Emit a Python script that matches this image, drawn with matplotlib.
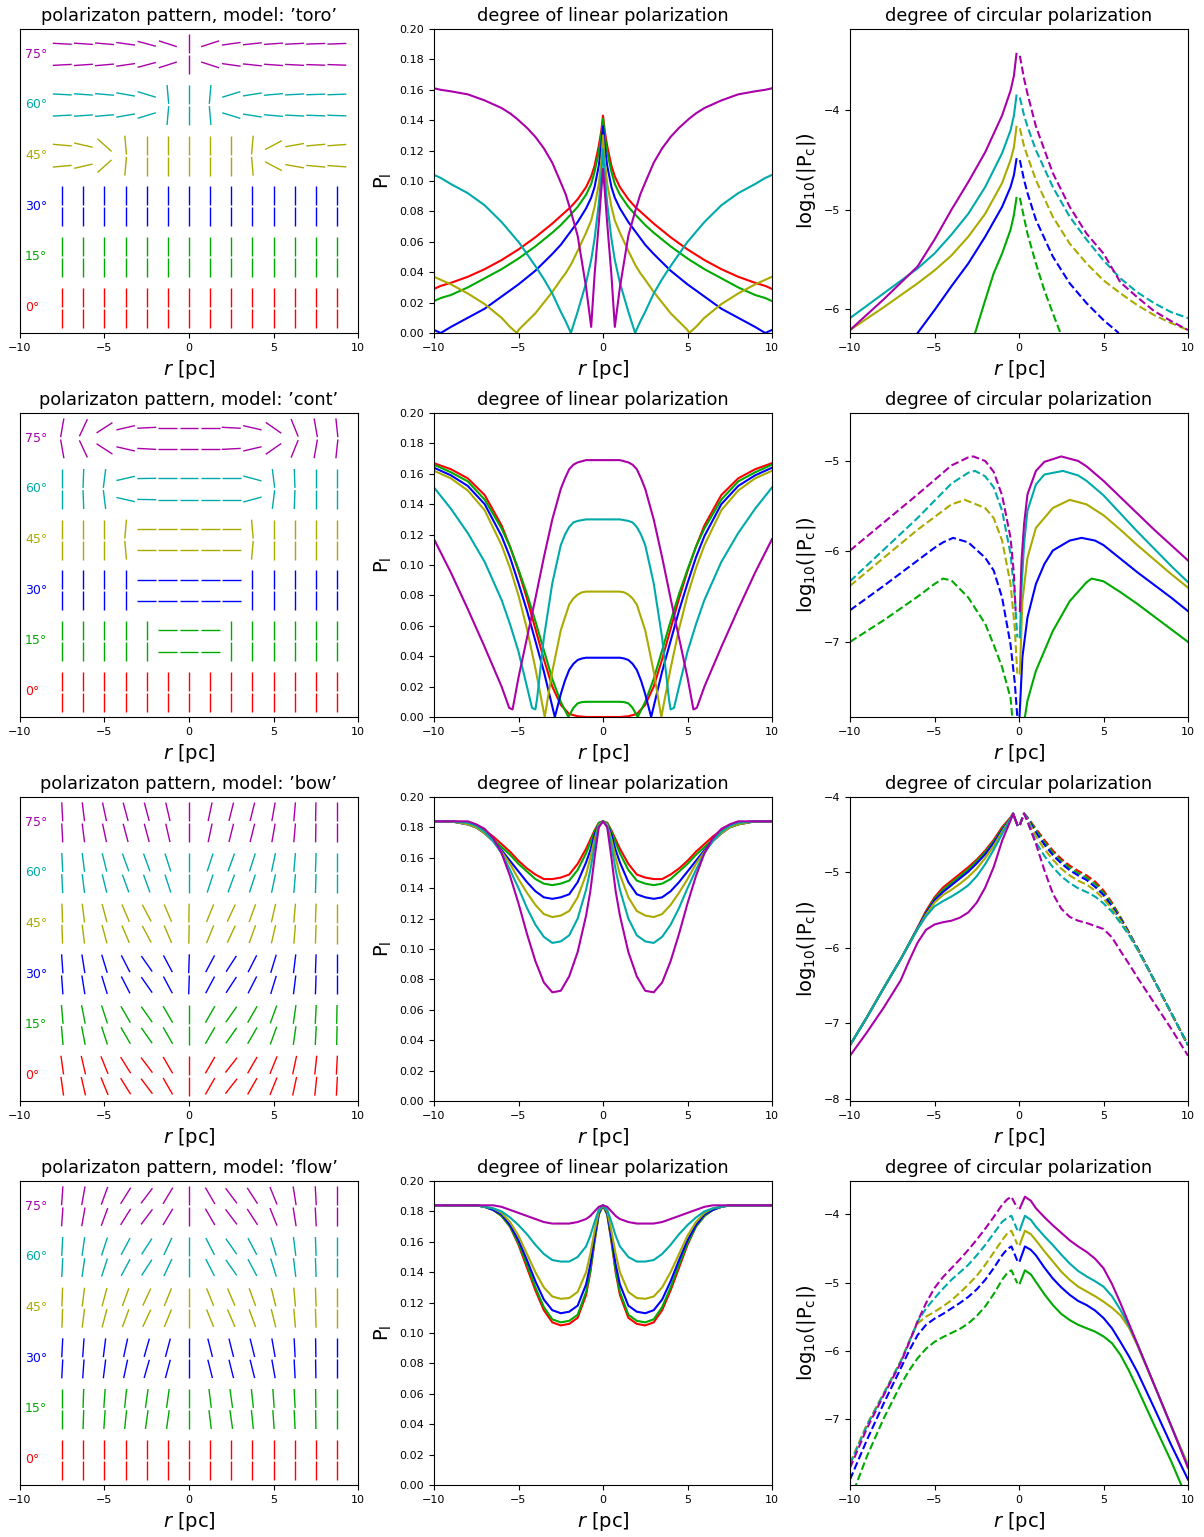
import numpy as np
import matplotlib
matplotlib.use('Agg')
import matplotlib.pyplot as plt
from matplotlib.collections import LineCollection

# inclinations and colours
incl = [0, 15, 30, 45, 60, 75]
colors = ['r', '#00aa00', 'b', '#aaaa00', '#00aaaa', '#aa00aa']
models = ['toro', 'cont', 'bow', 'flow']

# positions of the pattern segments along r
grid_x = [-7.5, -6.25, -5.0, -3.75, -2.5, -1.25, 0.0, 1.25, 2.5, 3.75, 5.0, 6.25, 7.5, 8.75]

# polarization angle (deg from vertical, + leans right) of the upper row, one list per inclination
toro_angle = [
    [0] * 14,
    [0] * 14,
    [0] * 14,
    [-85, -77, -48, -5, 0, 0, 0, 0, 0, 5, 62, 80, 85, 86],
    [-87, -86, -85, -80, -73, -5, 0, 5, 73, 81, 85, 87, 88, 88],
    [-87, -86, -85, -82, -75, -72, 0, 72, 82, 84, 86, 87, 88, 88],
]
cont_angle = [
    [0] * 14,
    [0, 0, 0, 0, 0, 90, 90, 90, 0, 0, 0, 0, 0, 0],
    [0, 0, 0, 0, 90, 90, 90, 90, 90, 0, 0, 0, 0, 0],
    [0, 0, 0, 5, 90, 90, 90, 90, 90, -5, 0, 0, 0, 0],
    [0, 2, 7, 77, 89, 90, 90, 90, 90, -75, -7, -2, 0, 0],
    [10, 25, 57, 77, 87, 90, 90, 90, -87, -77, -55, -22, -10, -6],
]
bow_angle = [
    [-8, -13, -22, -32, -37, -30, 0, 30, 38, 30, 22, 12, 6, 3],
    [-5, -11, -18, -30, -35, -30, 0, 30, 35, 30, 20, 8, 3, 1],
    [-4, -9, -17, -27, -35, -28, 2, 28, 33, 27, 17, 7, 2, 0],
    [-2, -7, -15, -23, -28, -23, 1, 22, 25, 20, 13, 5, 2, 0],
    [-3, -7, -14, -20, -20, -18, 0, 18, 20, 18, 12, 5, 2, 0],
    [-3, -7, -12, -15, -15, -13, 0, 12, 14, 14, 10, 5, 1, 0],
]
flow_angle = [
    [0] * 14,
    [0, 2, 4, 6, 8, 8, 0, -7, -8, -6, -4, -3, -1, 0],
    [3, 4, 7, 12, 16, 15, 0, -14, -14, -14, -10, -3, -1, 0],
    [2, 7, 15, 20, 25, 22, 0, -22, -23, -20, -14, -5, -2, 0],
    [3, 8, 18, 28, 33, 25, 0, -27, -35, -28, -17, -7, -2, 0],
    [4, 10, 20, 32, 37, 31, 0, -30, -37, -33, -22, -9, -3, 0],
]
# lower row mirrored (-1) or equal (+1) to upper row
lower_sign = [-1, -1, 1, 1]

# ---- degree of linear polarization, r >= 0 half (profiles are symmetric) ----
toro_lin_r = [0, 0.1, 0.25, 0.5, 0.7, 1, 1.5, 1.9, 2.2, 2.5, 3, 3.5, 4, 4.5, 5, 5.1, 5.5, 6, 7, 8, 9, 9.6, 10]
toro_lin = [
    [0.143, 0.133, 0.123, 0.110, 0.103, 0.096, 0.088, 0.083, 0.080, 0.077, 0.072, 0.0675, 0.063, 0.059, 0.055, 0.0543, 0.0515, 0.048, 0.042, 0.037, 0.033, 0.031, 0.029],
    [0.141, 0.130, 0.119, 0.106, 0.098, 0.091, 0.083, 0.078, 0.0745, 0.071, 0.066, 0.0615, 0.057, 0.053, 0.049, 0.0483, 0.0455, 0.042, 0.036, 0.030, 0.025, 0.023, 0.021],
    [0.136, 0.123, 0.110, 0.096, 0.089, 0.082, 0.073, 0.067, 0.0625, 0.058, 0.052, 0.0465, 0.041, 0.0365, 0.032, 0.0312, 0.028, 0.024, 0.016, 0.010, 0.004, 0.000, 0.002],
    [0.130, 0.113, 0.098, 0.083, 0.074, 0.066, 0.054, 0.045, 0.0395, 0.035, 0.027, 0.020, 0.013, 0.0075, 0.002, 0.000, 0.004, 0.010, 0.019, 0.026, 0.032, 0.035, 0.037],
    [0.121, 0.104, 0.085, 0.062, 0.048, 0.033, 0.014, 0.000, 0.0075, 0.014, 0.026, 0.0355, 0.044, 0.052, 0.060, 0.0612, 0.0665, 0.073, 0.084, 0.092, 0.098, 0.102, 0.104],
    [0.108, 0.094, 0.072, 0.038, 0.004, 0.030, 0.064, 0.080, 0.091, 0.099, 0.112, 0.1215, 0.129, 0.135, 0.140, 0.141, 0.1445, 0.148, 0.153, 0.157, 0.159, 0.160, 0.161],
]
cont_lin_r = [
    [0, 1, 1.5, 2, 2.5, 3, 3.5, 4, 4.5, 5, 5.5, 6, 7, 8, 9, 10],
    [0, 1, 1.25, 1.5, 1.75, 2.05, 2.5, 3, 3.5, 4, 4.5, 5, 5.5, 6, 7, 8, 9, 10],
    [0, 1, 1.25, 1.5, 1.75, 2, 2.25, 2.5, 2.85, 3.5, 4, 4.5, 5, 5.5, 6, 7, 8, 9, 10],
    [0, 1, 1.25, 1.5, 1.75, 2, 2.5, 3, 3.45, 4, 4.5, 5, 5.5, 6, 7, 8, 9, 10],
    [0, 1, 1.5, 1.75, 2, 2.25, 2.5, 3, 3.5, 3.9, 4.0, 4.2, 4.5, 5, 5.5, 6, 7, 8, 9, 10],
    [0, 1, 1.5, 1.75, 2, 2.25, 2.5, 3, 3.5, 4, 4.5, 5, 5.35, 5.55, 6, 6.5, 7, 8, 9, 10],
]
cont_lin = [
    [0, 0, 0.0005, 0.002, 0.008, 0.020, 0.038, 0.058, 0.078, 0.096, 0.112, 0.126, 0.146, 0.157, 0.163, 0.167],
    [0.010, 0.010, 0.0098, 0.009, 0.006, 0.0, 0.010, 0.025, 0.044, 0.063, 0.081, 0.097, 0.112, 0.124, 0.143, 0.155, 0.161, 0.166],
    [0.039, 0.039, 0.0385, 0.0375, 0.035, 0.031, 0.024, 0.015, 0.0, 0.030, 0.050, 0.070, 0.088, 0.105, 0.119, 0.140, 0.152, 0.159, 0.164],
    [0.0825, 0.0825, 0.082, 0.0805, 0.078, 0.074, 0.057, 0.030, 0.0, 0.032, 0.058, 0.080, 0.098, 0.113, 0.136, 0.149, 0.157, 0.162],
    [0.130, 0.130, 0.129, 0.128, 0.125, 0.120, 0.113, 0.088, 0.052, 0.012, 0.005, 0.006, 0.020, 0.043, 0.061, 0.077, 0.102, 0.121, 0.137, 0.151],
    [0.169, 0.169, 0.1675, 0.166, 0.163, 0.157, 0.150, 0.130, 0.105, 0.078, 0.052, 0.026, 0.005, 0.006, 0.020, 0.033, 0.046, 0.071, 0.095, 0.117],
]
bow_lin_r = [0, 0.25, 0.5, 0.75, 1, 1.5, 2, 2.5, 3, 3.5, 4, 4.5, 5, 5.5, 6, 6.5, 7, 7.5, 8, 9, 10]
bow_lin = [
    [0.184, 0.183, 0.178, 0.172, 0.166, 0.156, 0.149, 0.147, 0.146, 0.146, 0.149, 0.153, 0.158, 0.164, 0.169, 0.174, 0.178, 0.181, 0.183, 0.184, 0.184],
    [0.184, 0.183, 0.177, 0.170, 0.163, 0.152, 0.145, 0.143, 0.142, 0.143, 0.146, 0.151, 0.156, 0.162, 0.167, 0.172, 0.177, 0.180, 0.182, 0.184, 0.184],
    [0.184, 0.182, 0.175, 0.165, 0.157, 0.144, 0.136, 0.134, 0.133, 0.134, 0.138, 0.144, 0.151, 0.158, 0.165, 0.171, 0.176, 0.180, 0.182, 0.184, 0.184],
    [0.184, 0.182, 0.172, 0.160, 0.149, 0.134, 0.125, 0.122, 0.121, 0.123, 0.129, 0.137, 0.146, 0.156, 0.164, 0.171, 0.176, 0.180, 0.182, 0.184, 0.184],
    [0.184, 0.181, 0.168, 0.152, 0.139, 0.120, 0.109, 0.105, 0.104, 0.108, 0.116, 0.127, 0.140, 0.152, 0.163, 0.171, 0.177, 0.181, 0.183, 0.184, 0.184],
    [0.184, 0.180, 0.160, 0.138, 0.122, 0.098, 0.082, 0.0725, 0.0715, 0.078, 0.092, 0.110, 0.130, 0.148, 0.163, 0.173, 0.179, 0.182, 0.184, 0.184, 0.184],
]
flow_lin_r = [0, 0.25, 0.5, 0.75, 1, 1.5, 2, 2.5, 3, 3.5, 4, 4.5, 5, 5.5, 6, 6.5, 7, 7.5, 8, 9, 10]
flow_lin = [
    [0.184, 0.178, 0.160, 0.140, 0.125, 0.110, 0.106, 0.105, 0.107, 0.115, 0.128, 0.143, 0.158, 0.170, 0.177, 0.181, 0.183, 0.184, 0.184, 0.184, 0.184],
    [0.184, 0.178, 0.161, 0.141, 0.127, 0.112, 0.108, 0.107, 0.109, 0.117, 0.130, 0.145, 0.159, 0.170, 0.177, 0.181, 0.183, 0.184, 0.184, 0.184, 0.184],
    [0.184, 0.179, 0.163, 0.145, 0.132, 0.118, 0.114, 0.113, 0.115, 0.122, 0.134, 0.148, 0.161, 0.171, 0.178, 0.181, 0.183, 0.184, 0.184, 0.184, 0.184],
    [0.184, 0.180, 0.167, 0.152, 0.140, 0.127, 0.123, 0.1225, 0.124, 0.130, 0.140, 0.152, 0.164, 0.173, 0.179, 0.182, 0.183, 0.184, 0.184, 0.184, 0.184],
    [0.184, 0.181, 0.173, 0.164, 0.157, 0.150, 0.147, 0.147, 0.148, 0.152, 0.158, 0.165, 0.171, 0.176, 0.180, 0.182, 0.183, 0.184, 0.184, 0.184, 0.184],
    [0.184, 0.183, 0.180, 0.177, 0.175, 0.173, 0.172, 0.172, 0.172, 0.173, 0.175, 0.177, 0.179, 0.181, 0.183, 0.184, 0.184, 0.184, 0.184, 0.184, 0.184],
]

# ---- log10|Pc|: (r, value) for r<0 and r>0 separately; None = not drawn ----
toro_circ_left = [
    None,
    ([-2.6, -2, -1.5, -1, -0.5, -0.3, -0.15], [-6.24, -5.91, -5.64, -5.44, -5.20, -5.05, -4.88]),
    ([-6.0, -5, -4, -3, -2, -1, -0.5, -0.3, -0.15], [-6.24, -6.01, -5.77, -5.54, -5.27, -4.97, -4.77, -4.65, -4.49]),
    ([-10, -8, -6, -5, -4, -3, -2, -1, -0.5, -0.3, -0.15], [-6.21, -5.98, -5.74, -5.61, -5.46, -5.27, -5.04, -4.73, -4.50, -4.37, -4.165]),
    ([-10, -8, -6, -5, -4, -3, -2, -1, -0.5, -0.3, -0.15], [-6.09, -5.84, -5.59, -5.44, -5.25, -5.04, -4.77, -4.43, -4.20, -4.05, -3.85]),
    ([-10, -8, -6, -5, -4, -3, -2, -1, -0.5, -0.3, -0.15], [-6.21, -5.90, -5.57, -5.30, -5.00, -4.72, -4.42, -4.05, -3.80, -3.65, -3.43]),
]
toro_circ_right = [
    None,
    ([0.05, 0.3, 0.5, 1, 1.5, 2, 2.45], [-4.88, -5.08, -5.24, -5.54, -5.81, -6.04, -6.24]),
    ([0.05, 0.3, 0.5, 1, 2, 3, 4, 5, 5.9], [-4.50, -4.70, -4.83, -5.10, -5.47, -5.74, -5.94, -6.11, -6.24]),
    ([0.05, 0.3, 0.5, 1, 2, 3, 4, 5, 6, 7, 8, 9, 10], [-4.18, -4.36, -4.46, -4.70, -5.07, -5.34, -5.54, -5.71, -5.84, -5.96, -6.06, -6.14, -6.21]),
    ([0.05, 0.3, 0.5, 1, 2, 3, 4, 5, 6, 7, 8, 9, 10], [-3.87, -4.05, -4.16, -4.40, -4.77, -5.07, -5.30, -5.51, -5.69, -5.83, -5.94, -6.03, -6.09]),
    ([0.05, 0.3, 0.5, 1, 2, 3, 4, 5, 6, 7, 8, 9, 10], [-3.45, -3.68, -3.83, -4.16, -4.63, -4.97, -5.24, -5.44, -5.73, -5.88, -6.02, -6.12, -6.21]),
]
cont_circ_left = [
    None,
    ([-10, -8, -6, -5, -4.5, -4, -3, -2, -1.5, -1, -0.5, -0.4], [-7.0, -6.76, -6.50, -6.36, -6.30, -6.32, -6.51, -6.80, -7.03, -7.28, -7.62, -7.83]),
    ([-10, -8, -6, -5, -4.5, -3.9, -3, -2, -1.5, -1, -0.5, -0.25, -0.1], [-6.65, -6.38, -6.10, -5.96, -5.90, -5.85, -5.90, -6.07, -6.21, -6.51, -7.03, -7.45, -7.83]),
    ([-10, -8, -6, -5, -4, -3.2, -2, -1.5, -1, -0.5, -0.25, -0.1], [-6.38, -6.07, -5.76, -5.62, -5.48, -5.43, -5.52, -5.63, -5.88, -6.36, -6.85, -7.35]),
    ([-10, -8, -6, -5, -4, -3, -2.6, -2, -1.5, -1, -0.5, -0.25, -0.1], [-6.33, -5.98, -5.63, -5.44, -5.25, -5.13, -5.11, -5.17, -5.29, -5.55, -6.03, -6.50, -6.95]),
    ([-10, -8, -6, -5, -4, -3, -2.7, -2, -1.5, -1, -0.5, -0.3, -0.2], [-5.99, -5.68, -5.37, -5.21, -5.05, -4.96, -4.95, -5.00, -5.12, -5.38, -5.85, -6.25, -6.66]),
]
cont_circ_right = [
    None,
    ([0.35, 0.5, 1, 1.5, 2, 3, 4, 4.3, 5, 6, 7, 8, 9, 10], [-7.83, -7.65, -7.32, -7.10, -6.88, -6.55, -6.34, -6.30, -6.33, -6.45, -6.58, -6.72, -6.86, -7.0]),
    ([0.03, 0.2, 0.5, 1, 1.5, 2, 3, 3.7, 4.5, 5, 6, 7, 8, 9, 10], [-7.83, -7.17, -6.73, -6.36, -6.14, -5.99, -5.88, -5.85, -5.88, -5.93, -6.08, -6.23, -6.37, -6.51, -6.66]),
    ([0.05, 0.2, 0.5, 1, 2, 3, 4, 5, 6, 7, 8, 9, 10], [-7.35, -6.55, -6.07, -5.74, -5.52, -5.43, -5.48, -5.60, -5.76, -5.93, -6.09, -6.25, -6.40]),
    ([0.05, 0.15, 0.3, 0.5, 1, 1.5, 2.6, 3.5, 4, 5, 6, 7, 8, 9, 10], [-6.95, -6.40, -5.92, -5.55, -5.26, -5.15, -5.11, -5.16, -5.22, -5.38, -5.58, -5.78, -5.97, -6.16, -6.34]),
    ([0.05, 0.15, 0.3, 0.5, 1, 1.5, 2.5, 3.5, 4, 5, 6, 7, 8, 9, 10], [-6.66, -6.10, -5.70, -5.37, -5.11, -5.01, -4.95, -5.00, -5.06, -5.22, -5.40, -5.58, -5.76, -5.93, -6.10]),
]
bow_circ_lr = [-10, -9, -8, -7, -6.5, -6, -5.5, -5, -4.5, -4, -3.5, -3, -2.5, -2, -1.5, -1, -0.5, -0.35, -0.1]
bow_circ_left = [
    [-7.29, -6.92, -6.53, -6.15, -5.94, -5.73, -5.51, -5.33, -5.20, -5.11, -5.02, -4.93, -4.83, -4.71, -4.57, -4.40, -4.27, -4.22, -4.37],
    [-7.29, -6.92, -6.53, -6.15, -5.94, -5.74, -5.53, -5.35, -5.23, -5.14, -5.05, -4.96, -4.85, -4.73, -4.59, -4.42, -4.28, -4.22, -4.37],
    [-7.29, -6.92, -6.53, -6.15, -5.95, -5.74, -5.54, -5.37, -5.26, -5.17, -5.08, -4.99, -4.88, -4.76, -4.61, -4.44, -4.29, -4.22, -4.37],
    [-7.29, -6.92, -6.53, -6.15, -5.95, -5.75, -5.56, -5.40, -5.30, -5.23, -5.15, -5.06, -4.95, -4.81, -4.65, -4.46, -4.29, -4.22, -4.37],
    [-7.29, -6.92, -6.53, -6.15, -5.95, -5.75, -5.58, -5.45, -5.38, -5.32, -5.25, -5.17, -5.05, -4.89, -4.70, -4.49, -4.29, -4.22, -4.37],
    [-7.43, -7.12, -6.79, -6.43, -6.17, -5.93, -5.76, -5.69, -5.66, -5.64, -5.60, -5.53, -5.40, -5.20, -4.93, -4.58, -4.31, -4.22, -4.37],
]
bow_circ_rr = [0.05, 0.3, 0.5, 1, 1.5, 2, 2.5, 3, 3.5, 4, 4.5, 5, 5.5, 6, 6.5, 7, 8, 9, 10]
bow_circ_right = [
    [-4.37, -4.22, -4.27, -4.42, -4.57, -4.71, -4.82, -4.91, -4.98, -5.04, -5.12, -5.24, -5.40, -5.59, -5.79, -6.00, -6.43, -6.86, -7.29],
    [-4.37, -4.22, -4.27, -4.44, -4.60, -4.74, -4.85, -4.94, -5.01, -5.07, -5.15, -5.27, -5.42, -5.60, -5.80, -6.00, -6.43, -6.86, -7.29],
    [-4.37, -4.22, -4.28, -4.47, -4.63, -4.77, -4.88, -4.97, -5.04, -5.10, -5.19, -5.30, -5.45, -5.62, -5.80, -6.00, -6.43, -6.86, -7.29],
    [-4.37, -4.22, -4.29, -4.52, -4.69, -4.83, -4.95, -5.04, -5.11, -5.16, -5.24, -5.35, -5.48, -5.64, -5.81, -6.01, -6.43, -6.86, -7.29],
    [-4.37, -4.22, -4.30, -4.60, -4.78, -4.93, -5.05, -5.14, -5.21, -5.26, -5.32, -5.41, -5.52, -5.67, -5.83, -6.02, -6.43, -6.86, -7.29],
    [-4.37, -4.22, -4.33, -4.62, -4.97, -5.28, -5.48, -5.59, -5.64, -5.67, -5.71, -5.75, -5.86, -6.04, -6.21, -6.39, -6.73, -7.07, -7.43],
]
flow_circ_lr = [-10, -9, -8, -7, -6.5, -6, -5.5, -5, -4.5, -4, -3.5, -3, -2.5, -2, -1.5, -1, -0.7, -0.45, -0.1]
flow_circ_left = [
    None,
    [-8.2, -7.55, -6.99, -6.50, -6.29, -6.11, -5.97, -5.87, -5.80, -5.74, -5.68, -5.60, -5.49, -5.35, -5.17, -4.96, -4.86, -4.82, -5.01],
    [-7.89, -7.31, -6.77, -6.26, -6.00, -5.77, -5.62, -5.53, -5.46, -5.38, -5.30, -5.21, -5.10, -4.96, -4.79, -4.60, -4.51, -4.47, -4.68],
    [-7.65, -7.08, -6.62, -6.15, -5.86, -5.60, -5.50, -5.43, -5.35, -5.26, -5.15, -5.03, -4.90, -4.74, -4.56, -4.38, -4.28, -4.24, -4.44],
    [-7.67, -7.10, -6.63, -6.16, -5.87, -5.57, -5.38, -5.23, -5.09, -4.96, -4.85, -4.74, -4.60, -4.45, -4.28, -4.11, -4.05, -4.02, -4.23],
    [-7.72, -7.14, -6.65, -6.18, -5.88, -5.57, -5.30, -5.08, -4.92, -4.79, -4.66, -4.52, -4.37, -4.21, -4.04, -3.86, -3.78, -3.74, -3.91],
]
flow_circ_rr = [0.05, 0.35, 0.7, 1, 1.5, 2, 2.5, 3, 3.5, 4, 4.5, 5, 5.5, 6, 6.5, 7, 8, 9, 10]
flow_circ_right = [
    None,
    [-5.01, -4.82, -4.88, -4.99, -5.17, -5.33, -5.46, -5.55, -5.62, -5.67, -5.72, -5.79, -5.89, -6.06, -6.29, -6.55, -7.09, -7.62, -8.2],
    [-4.68, -4.47, -4.52, -4.60, -4.78, -4.94, -5.07, -5.18, -5.27, -5.33, -5.41, -5.52, -5.67, -5.87, -6.08, -6.31, -6.84, -7.38, -7.89],
    [-4.44, -4.24, -4.29, -4.38, -4.54, -4.69, -4.84, -4.96, -5.06, -5.13, -5.20, -5.28, -5.37, -5.48, -5.66, -5.92, -6.50, -7.10, -7.67],
    [-4.23, -4.02, -4.08, -4.18, -4.32, -4.45, -4.59, -4.72, -4.83, -4.91, -4.98, -5.06, -5.20, -5.40, -5.63, -5.90, -6.50, -7.10, -7.70],
    [-3.91, -3.74, -3.80, -3.91, -4.04, -4.16, -4.27, -4.38, -4.47, -4.55, -4.65, -4.79, -5.02, -5.30, -5.60, -5.90, -6.50, -7.10, -7.72],
]
circ_ylim = [(-6.24, -3.18), (-7.83, -4.47), (-8.03, -4.0), (-7.97, -3.51)]
circ_left_style = ['-', '--', '-', '--']


def pairs(rr, vals):
    return [None if v is None else (rr, v) for v in vals]


lin_r = [toro_lin_r, cont_lin_r, bow_lin_r, flow_lin_r]
lin_p = [toro_lin, cont_lin, bow_lin, flow_lin]
angles = [toro_angle, cont_angle, bow_angle, flow_angle]
circ_left = [toro_circ_left, cont_circ_left,
             pairs(bow_circ_lr, bow_circ_left), pairs(flow_circ_lr, flow_circ_left)]
circ_right = [toro_circ_right, cont_circ_right,
              pairs(bow_circ_rr, bow_circ_right), pairs(flow_circ_rr, flow_circ_right)]


def mirror(r, v):
    r = np.asarray(r, float)
    v = np.asarray(v, float)
    return np.concatenate([-r[::-1], r[1:]]), np.concatenate([v[::-1], v[1:]])


W, H = 1204, 1537
fig = plt.figure(figsize=(W / 100, H / 100), dpi=100)
col_x = [20, 434, 850]
row_top = [29, 413, 797, 1181]
aw, ah = 338, 304

tfs, lfs, kfs = 12.8, 14, 8

for m, model in enumerate(models):
    bottom = 1 - (row_top[m] + ah) / H
    ax1 = fig.add_axes([col_x[0] / W, bottom, aw / W, ah / H])
    ax2 = fig.add_axes([col_x[1] / W, bottom, aw / W, ah / H])
    ax3 = fig.add_axes([col_x[2] / W, bottom, aw / W, ah / H])

    # polarization pattern
    L = 0.56
    for i in range(6):
        y0 = 3 * i
        for dy, s in ((0.625, 1), (-0.625, lower_sign[m])):
            segs = []
            for x, a in zip(grid_x, angles[m][i]):
                t = np.radians(s * a)
                segs.append([(x - L * np.sin(t), y0 + dy - L * np.cos(t)),
                             (x + L * np.sin(t), y0 + dy + L * np.cos(t))])
            ax1.add_collection(LineCollection(segs, colors=colors[i], linewidths=1.0))
        ax1.text(-9.7, y0, '%d°' % incl[i], color=colors[i], fontsize=9, va='center', ha='left')
    ax1.set_xlim(-10, 10)
    ax1.set_ylim(-1.5, 16.5)
    ax1.set_yticks([])
    ax1.set_xticks([-10, -5, 0, 5, 10])
    ax1.set_title('polarizaton pattern, model: \u2019%s\u2019' % model, fontsize=tfs)
    ax1.set_xlabel(r'$r$ [pc]', fontsize=lfs)

    # linear polarization
    for i in range(6):
        rr = lin_r[m][i] if isinstance(lin_r[m][0], list) else lin_r[m]
        x, y = mirror(rr, lin_p[m][i])
        ax2.plot(x, y, color=colors[i], lw=1.5)
    ax2.set_xlim(-10, 10)
    ax2.set_ylim(0, 0.2)
    ax2.set_yticks(np.arange(0, 0.201, 0.02))
    ax2.set_xticks([-10, -5, 0, 5, 10])
    ax2.set_title('degree of linear polarization', fontsize=tfs)
    ax2.set_xlabel(r'$r$ [pc]', fontsize=lfs)
    ax2.set_ylabel(r'$\mathrm{P_l}$', fontsize=lfs)

    # circular polarization
    ls_l = circ_left_style[m]
    ls_r = '--' if ls_l == '-' else '-'
    for i in range(6):
        if circ_left[m][i] is not None:
            ax3.plot(circ_left[m][i][0], circ_left[m][i][1], color=colors[i], lw=1.5, ls=ls_l)
        if circ_right[m][i] is not None:
            ax3.plot(circ_right[m][i][0], circ_right[m][i][1], color=colors[i], lw=1.5, ls=ls_r)
    ax3.set_xlim(-10, 10)
    ax3.set_ylim(*circ_ylim[m])
    ax3.set_xticks([-10, -5, 0, 5, 10])
    ax3.set_yticks(np.arange(np.ceil(circ_ylim[m][0]), circ_ylim[m][1] + 0.01, 1))
    ax3.set_title('degree of circular polarization', fontsize=tfs)
    ax3.set_xlabel(r'$r$ [pc]', fontsize=lfs)
    ax3.set_ylabel(r'$\mathrm{log_{10}(|P_c|)}$', fontsize=lfs)

    for ax in (ax1, ax2, ax3):
        ax.tick_params(labelsize=kfs)

fig.savefig('out.png', dpi=100)
